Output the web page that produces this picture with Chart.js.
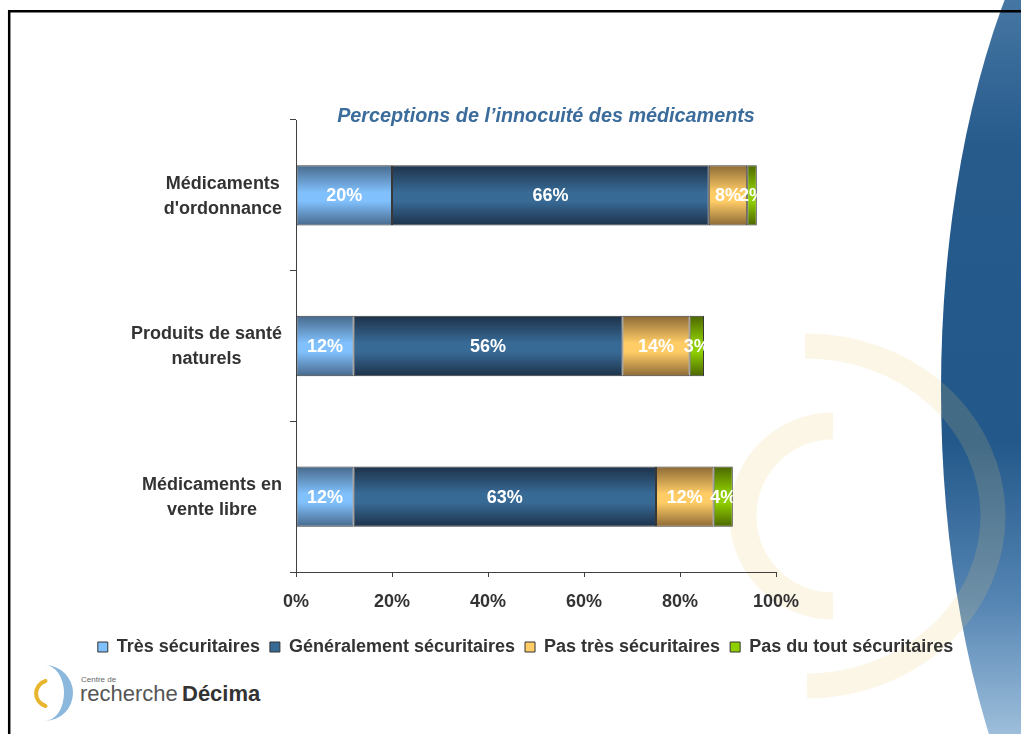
<!DOCTYPE html>
<html lang="fr">
<head>
<meta charset="utf-8">
<title>Perceptions de l’innocuité des médicaments</title>
<script src="https://cdn.jsdelivr.net/npm/chart.js@4.4.1/dist/chart.umd.min.js"></script>
<style>
  html, body { margin: 0; padding: 0; background: #fff; }
  #page { position: relative; width: 1021px; height: 734px; overflow: hidden; }
  #page svg, #page canvas { position: absolute; left: 0; top: 0; }
</style>
</head>
<body>
<div id="page">
  <svg width="1021" height="734" viewBox="0 0 1021 734">
    <defs>
      <linearGradient id="blueSide" x1="0" y1="0" x2="0" y2="734" gradientUnits="userSpaceOnUse">
        <stop offset="0" stop-color="#4676a3"/>
        <stop offset="0.2" stop-color="#265b8c"/>
        <stop offset="0.6" stop-color="#22588a"/>
        <stop offset="0.82" stop-color="#5585b3"/>
        <stop offset="1" stop-color="#9dbedb"/>
      </linearGradient>
    </defs>
    <!-- blue side panel -->
    <ellipse cx="1206" cy="390" rx="265" ry="600" fill="url(#blueSide)"/>
    <!-- faint watermark arcs -->
    <g fill="none" stroke="rgb(240,200,110)" stroke-opacity="0.17">
      <path d="M805 346 A187 170 0 0 1 807 686" stroke-width="25"/>
      <path d="M833 426 A89 89 0 1 0 833 606" stroke-width="27"/>
    </g>
    <!-- frame -->
    <path d="M9.2 734 V11.2 H1021" fill="none" stroke="#000" stroke-width="2.5"/>
    <!-- logo -->
    <path d="M45 665 A28 28 0 0 1 45 721 A19 28 0 0 0 45 665 Z" fill="#8db8de"/>
    <path d="M45.5 681 A13 13 0 0 0 45.5 706" fill="none" stroke="#e8b52f" stroke-width="4" stroke-linecap="round"/>
    <text x="81" y="682" font-family="Liberation Sans, Arial, sans-serif" font-size="8" fill="#666">Centre de</text>
    <text x="80" y="701" font-family="Liberation Sans, Arial, sans-serif" font-size="22" fill="#555">recherche</text>
    <text x="182" y="701" font-family="Liberation Sans, Arial, sans-serif" font-size="22" font-weight="bold" fill="#333">Décima</text>
  </svg>
  <canvas id="chart" width="1021" height="734"></canvas>
</div>

<script>
const categories = [
  ['Médicaments', "d'ordonnance"],
  ['Produits de santé', 'naturels'],
  ['Médicaments en', 'vente libre']
];
const seriesNames = ['Très sécuritaires', 'Généralement sécuritaires', 'Pas très sécuritaires', 'Pas du tout sécuritaires'];
const tresSecuritaires = [20, 12, 12];
const generalementSecuritaires = [66, 56, 63];
const pasTresSecuritaires = [8, 14, 12];
const pasDuToutSecuritaires = [2, 3, 4];
const xTicks = [0, 20, 40, 60, 80, 100];
const chartTitle = 'Perceptions de l’innocuité des médicaments';

// edge / middle colours of each bar's vertical shading
const palette = [
  { edge: '#48698b', mid: '#80c0fc' },
  { edge: '#1d3249', mid: '#386a96' },
  { edge: '#8c6a36', mid: '#ffcc66' },
  { edge: '#4c6600', mid: '#8fcf00' }
];
const barShare = 0.4;
const fontFamily = "'Liberation Sans', Arial, sans-serif";

Chart.defaults.font.family = fontFamily;

function barGradient(edge, mid) {
  return (ctx) => {
    const chart = ctx.chart;
    const yScale = chart.scales.y;
    if (!chart.chartArea || !yScale || ctx.type !== 'data') return mid;
    const centre = yScale.getPixelForValue(ctx.dataIndex);
    const half = yScale.height / categories.length * barShare / 2;
    const g = chart.ctx.createLinearGradient(0, centre - half, 0, centre + half);
    g.addColorStop(0, edge);
    g.addColorStop(0.45, mid);
    g.addColorStop(0.6, mid);
    g.addColorStop(1, edge);
    return g;
  };
}

// category names: each block right-aligned, its lines centred inside it
const categoryLabels = {
  id: 'categoryLabels',
  afterDraw(chart) {
    const { ctx, chartArea } = chart;
    const yScale = chart.scales.y;
    const right = chartArea.left - 14;
    const lineGap = 25;
    ctx.save();
    ctx.font = 'bold 18px ' + fontFamily;
    ctx.fillStyle = '#333';
    ctx.textAlign = 'center';
    ctx.textBaseline = 'middle';
    chart.data.labels.forEach((lines, i) => {
      const blockW = Math.max(...lines.map(l => ctx.measureText(l).width));
      const cx = right - blockW / 2;
      const cy = yScale.getPixelForTick(i);
      lines.forEach((line, j) => {
        ctx.fillText(line, cx, cy + (j - (lines.length - 1) / 2) * lineGap + 1);
      });
    });
    ctx.restore();
  }
};

// white percentages, clipped to the end of each stacked bar
const valueLabels = {
  id: 'valueLabels',
  afterDatasetsDraw(chart) {
    const { ctx, chartArea } = chart;
    const metas = chart.getSortedVisibleDatasetMetas();
    const last = metas[metas.length - 1];
    ctx.save();
    ctx.font = 'bold 18px ' + fontFamily;
    ctx.fillStyle = '#fff';
    ctx.textAlign = 'center';
    ctx.textBaseline = 'middle';
    metas.forEach(meta => {
      const values = chart.data.datasets[meta.index].data;
      meta.data.forEach((bar, i) => {
        const end = last.data[i].x;
        ctx.save();
        ctx.beginPath();
        ctx.rect(chartArea.left, bar.y - bar.height / 2, end - chartArea.left, bar.height);
        ctx.clip();
        ctx.fillText(values[i] + '%', (bar.x + bar.base) / 2, bar.y + 1);
        ctx.restore();
      });
    });
    ctx.restore();
  }
};

const titleText = {
  id: 'titleText',
  afterDraw(chart) {
    const { ctx, chartArea } = chart;
    ctx.save();
    ctx.font = 'italic bold 19.8px ' + fontFamily;
    ctx.fillStyle = '#3b6c9c';
    ctx.textAlign = 'center';
    ctx.textBaseline = 'middle';
    ctx.fillText(chartTitle, (chartArea.left + chartArea.right) / 2 + 10, chartArea.top - 3);
    ctx.restore();
  }
};

const seriesValues = [tresSecuritaires, generalementSecuritaires, pasTresSecuritaires, pasDuToutSecuritaires];

const perceptionChart = new Chart(document.getElementById('chart'), {
  type: 'bar',
  data: {
    labels: categories,
    datasets: seriesNames.map((name, i) => ({
      label: name,
      data: seriesValues[i],
      backgroundColor: barGradient(palette[i].edge, palette[i].mid),
      borderColor: '#383838',
      borderWidth: 1,
      borderSkipped: false,
      barPercentage: barShare,
      categoryPercentage: 1
    }))
  },
  options: {
    indexAxis: 'y',
    responsive: false,
    animation: false,
    layout: { padding: { left: 30, right: 0, top: 120, bottom: 68 } },
    scales: {
      x: {
        stacked: true,
        min: 0,
        max: 100,
        grid: { drawOnChartArea: false, tickLength: 5, color: '#404040' },
        border: { color: '#404040', width: 1 },
        ticks: {
          color: '#333',
          font: { size: 18, weight: 'bold' },
          padding: 14,
          callback: v => v + '%'
        },
        afterBuildTicks: s => { s.ticks = xTicks.map(v => ({ value: v })); },
        afterFit: s => { s.height = 56; }
      },
      y: {
        stacked: true,
        grid: { drawOnChartArea: false, tickLength: 6, color: '#404040', offset: true },
        border: { color: '#404040', width: 1 },
        ticks: { display: false },
        afterFit: s => { s.width = 266; }
      },
      rightGap: {
        type: 'linear',
        axis: 'y',
        position: 'right',
        grid: { display: false },
        ticks: { display: false },
        border: { display: false },
        afterFit: s => { s.width = 245; }
      }
    },
    plugins: {
      title: { display: false },
      tooltip: { enabled: false },
      legend: {
        position: 'bottom',
        labels: {
          boxWidth: 10,
          boxHeight: 10,
          padding: 10,
          color: '#333',
          font: { size: 18, weight: 'bold' },
          generateLabels: chart => chart.data.datasets.map((ds, i) => ({
            text: ds.label,
            fillStyle: palette[i].mid,
            strokeStyle: '#333',
            lineWidth: 1,
            fontColor: '#333',
            hidden: false,
            datasetIndex: i
          }))
        }
      }
    }
  },
  plugins: [valueLabels, categoryLabels, titleText]
});
</script>
</body>
</html>
